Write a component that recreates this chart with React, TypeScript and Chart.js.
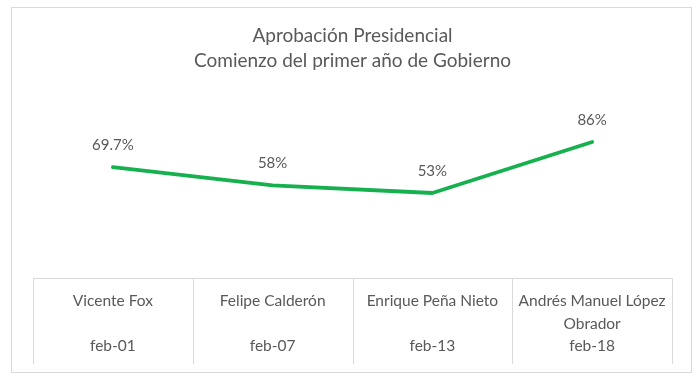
import React, { useEffect, useRef } from "react";
import { Chart, registerables } from "chart.js";

Chart.register(...registerables);

const presidents: string[][] = [
  ["Vicente Fox"],
  ["Felipe Calderón"],
  ["Enrique Peña Nieto"],
  ["Andrés Manuel López", "Obrador"],
];
const dates: string[] = ["feb-01", "feb-07", "feb-13", "feb-18"];
const approval: number[] = [69.7, 58, 53, 86];
const titleLines: string[] = ["Aprobación Presidencial", "Comienzo del primer año de Gobierno"];

const FONT = "Lato, 'Open Sans', sans-serif";
const TEXT = "#595959";
const LINE_GRAY = "#d9d9d9";

const decorPlugin = {
  id: "decor",
  beforeDraw(chart: any) {
    const { ctx } = chart;
    ctx.save();
    ctx.strokeStyle = LINE_GRAY;
    ctx.lineWidth = 1;
    ctx.strokeRect(11.5, 7.5, 680, 365);
    ctx.restore();
  },
  afterDraw(chart: any) {
    const { ctx, chartArea } = chart;
    const xs = chart.scales.x;
    const n = xs.ticks.length;
    const step = n > 1 ? xs.getPixelForValue(1) - xs.getPixelForValue(0) : chartArea.width;
    const top = Math.round(chartArea.bottom) + 0.5;
    const bottom = 364;
    ctx.save();
    ctx.strokeStyle = LINE_GRAY;
    ctx.lineWidth = 1;
    ctx.beginPath();
    ctx.moveTo(chartArea.left, top);
    ctx.lineTo(chartArea.right, top);
    for (let i = 0; i <= n; i++) {
      const x = Math.round(xs.getPixelForValue(0) - step / 2 + i * step) + 0.5;
      ctx.moveTo(x, top);
      ctx.lineTo(x, bottom);
    }
    ctx.stroke();
    ctx.restore();
  },
  afterDatasetsDraw(chart: any) {
    const { ctx } = chart;
    const meta = chart.getDatasetMeta(0);
    ctx.save();
    ctx.fillStyle = TEXT;
    ctx.font = `15px ${FONT}`;
    ctx.textAlign = "center";
    ctx.textBaseline = "middle";
    meta.data.forEach((pt: any, i: number) => {
      ctx.fillText(`${approval[i]}%`, pt.x, pt.y - 22);
    });
    ctx.restore();
  },
};

export default function App() {
  const ref = useRef<HTMLCanvasElement | null>(null);
  useEffect(() => {
    if (!ref.current) return;
    const chart = new Chart(ref.current, {
      type: "line",
      data: {
        labels: presidents.map((p, i) => [...p, ...(p.length < 2 ? [""] : []), dates[i]]),
        datasets: [
          {
            data: approval,
            borderColor: "#16b04f",
            borderWidth: 3.8,
            borderCapStyle: "round",
            borderJoinStyle: "round",
            pointRadius: 0,
            tension: 0,
            fill: false,
            clip: false as any,
          },
        ],
      },
      options: {
        animation: false,
        responsive: false,
        maintainAspectRatio: false,
        layout: { padding: { left: 33, right: 28, top: 0, bottom: 0 } },
        plugins: {
          legend: { display: false },
          tooltip: { enabled: false },
          title: {
            display: true,
            text: titleLines,
            color: TEXT,
            font: { family: FONT, size: 19, weight: "normal", lineHeight: 1.3 },
            padding: { top: 24, bottom: 47 },
          },
        },
        scales: {
          y: { display: false, min: -2, max: 100 },
          x: {
            offset: true,
            grid: { display: false },
            border: { display: false },
            ticks: {
              color: TEXT,
              font: { family: FONT, size: 15.5, lineHeight: 1.45 },
              padding: 4,
              maxRotation: 0,
              autoSkip: false,
            },
            afterFit(scale: any) {
              scale.height = 101;
            },
          },
        },
      },
      plugins: [decorPlugin],
    });
    return () => chart.destroy();
  }, []);
  return (
    <div style={{ position: "fixed", left: 0, top: 0, width: 700, height: 379, background: "#fff" }}>
      <canvas ref={ref} width={700} height={379} style={{ width: 700, height: 379, display: "block" }} />
    </div>
  );
}
